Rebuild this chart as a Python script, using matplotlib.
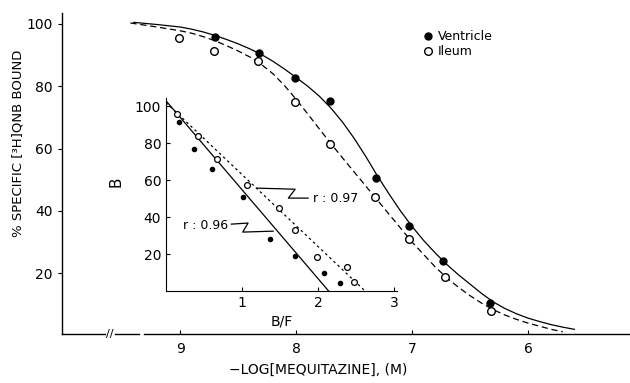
import matplotlib
matplotlib.use("Agg")
import matplotlib.pyplot as plt

plt.rcParams['font.family'] = ['DejaVu Sans']

# main plot: -log[mequitazine] vs % specific binding
vent_x = [8.70, 8.32, 8.01, 7.71, 7.31, 7.03, 6.73, 6.33]
vent_y = [95.8, 90.7, 82.7, 75.4, 50.4, 35.0, 23.8, 10.4]
ileum_x = [9.01, 8.71, 8.33, 8.01, 7.71, 7.32, 7.03, 6.72, 6.32]
ileum_y = [95.5, 91.4, 88.2, 75.0, 61.6, 44.3, 30.9, 18.7, 7.8]

# fitted curves
vent_fit_x = [9.4, 9.2, 9.0, 8.9, 8.8, 8.7, 8.6, 8.5, 8.4, 8.3, 8.2, 8.1, 8.0, 7.9,
              7.8, 7.7, 7.6, 7.5, 7.4, 7.3, 7.2, 7.1, 7.0, 6.9, 6.8, 6.7, 6.6, 6.5,
              6.4, 6.3, 6.2, 6.1, 6.0, 5.9, 5.8, 5.7, 5.6]
vent_fit_y = [100.5, 99.8, 99.0, 98.3, 97.4, 96.3, 95.0, 93.6, 92.0, 90.2, 88.0, 85.5,
              82.8, 80.0, 76.8, 73.0, 68.5, 63.3, 57.5, 51.3, 45.5, 40.0, 35.0, 30.5,
              26.5, 22.8, 19.5, 16.5, 13.5, 10.8, 8.7, 7.0, 5.6, 4.5, 3.5, 2.7, 2.0]
ileum_fit_x = [9.43, 9.2, 9.0, 8.9, 8.8, 8.7, 8.6, 8.5, 8.4, 8.3, 8.2, 8.1, 8.0, 7.9,
               7.8, 7.7, 7.6, 7.5, 7.4, 7.3, 7.2, 7.1, 7.0, 6.9, 6.8, 6.7, 6.6, 6.5,
               6.4, 6.3, 6.2, 6.1, 6.0, 5.9, 5.8, 5.7]
ileum_fit_y = [100.3, 99.0, 97.8, 97.0, 95.9, 94.6, 93.0, 91.3, 89.4, 87.0, 84.0, 80.2,
               75.8, 71.1, 66.3, 61.6, 57.0, 52.5, 48.0, 43.5, 39.0, 34.5, 30.0, 26.0,
               22.0, 18.5, 15.5, 12.8, 10.4, 8.3, 6.6, 5.2, 4.0, 3.0, 2.0, 1.2]

# inset: Scatchard plot B vs B/F
sv_x = [0.17, 0.37, 0.61, 1.01, 1.37, 1.70, 2.08, 2.29]
sv_y = [91.4, 76.8, 66.0, 50.8, 28.1, 18.9, 9.7, 4.3]
si_x = [0.14, 0.42, 0.67, 1.07, 1.49, 1.70, 1.99, 2.38, 2.47]
si_y = [95.7, 83.8, 71.4, 57.3, 44.9, 33.0, 18.4, 13.0, 4.9]
sv_line_x = [0.0, 2.14]
sv_line_y = [103.0, 0.0]
si_line_x = [0.0, 2.62]
si_line_y = [102.0, 0.0]

fig = plt.figure(figsize=(6.3, 3.83), dpi=100)
ax = fig.add_axes([62/630, 1-334/383, 568/630, 321/383])

ax.plot(vent_fit_x, vent_fit_y, color='black', lw=0.9)
ax.plot(ileum_fit_x, ileum_fit_y, color='black', lw=0.9, ls=(0, (5, 3)))
ax.plot(vent_x, vent_y, 'o', color='black', ms=5, label='Ventricle')
ax.plot(ileum_x, ileum_y, 'o', mfc='white', mec='black', mew=1, ms=5.5, label='Ileum')

ax.set_xlim(10.02, 5.12)
ax.set_ylim(0.5, 103.5)
ax.set_xticks([9, 8, 7, 6])
ax.set_yticks([20, 40, 60, 80, 100])
ax.tick_params(axis='x', direction='in', length=3, labelsize=10, pad=6)
ax.tick_params(axis='y', direction='out', length=3, labelsize=10)
for s in ['top', 'right', 'bottom']:
    ax.spines[s].set_visible(False)
ax.spines['left'].set_linewidth(1)

# broken x axis line
fx = lambda px: (px - 62) / 568
kw = dict(transform=ax.transAxes, color='black', lw=1, clip_on=False)
ax.plot([0, fx(105)], [0, 0], **kw)
ax.plot([fx(115), fx(139)], [0, 0], **kw)
ax.plot([fx(144), 1], [0, 0], **kw)
ax.text(fx(110), 0, '//', transform=ax.transAxes, ha='center', va='center',
        fontsize=8)

ax.set_ylabel('% SPECIFIC [\u00b3H]QNB BOUND', fontsize=9.5)
ax.yaxis.set_label_coords(-0.066, 0.595)
ax.set_xlabel('\u2212LOG[MEQUITAZINE], (M)', fontsize=10)
ax.xaxis.set_label_coords(0.451, -0.09)

fig.legend(loc='upper left', bbox_to_anchor=(418/630, 1-24/383), frameon=False,
           handlelength=0.6, handletextpad=0.5, borderpad=0, labelspacing=0.15,
           fontsize=9)

# inset
ai = fig.add_axes([166/630, 1-291/383, 231/630, 193/383])
ai.plot(sv_line_x, sv_line_y, color='black', lw=0.9)
ai.plot(si_line_x, si_line_y, color='black', lw=0.9, ls=(0, (2, 2.5)))
ai.plot(sv_x, sv_y, 'o', color='black', ms=3)
ai.plot(si_x, si_y, 'o', mfc='white', mec='black', mew=0.9, ms=4.2)
ai.set_xlim(0, 3.04)
ai.set_ylim(0, 104.5)
ai.set_xticks([1, 2, 3])
ai.set_yticks([20, 40, 60, 80, 100])
ai.tick_params(direction='in', length=3, labelsize=10)
ai.patch.set_alpha(0)
for s in ['top', 'right']:
    ai.spines[s].set_visible(False)
ai.set_xlabel('B/F', fontsize=10, labelpad=3)
ai.set_ylabel('B', fontsize=11)
ai.yaxis.set_label_coords(-0.185, 0.565)

# r value leaders
ai.plot([1.20, 1.70, 1.61, 1.87], [55.7, 55.1, 50.3, 50.3], color='black', lw=0.9, clip_on=False)
ai.text(1.93, 50.3, 'r : 0.97', fontsize=9, va='center', ha='left')
ai.plot([0.86, 1.08, 1.01, 1.41], [36.2, 36.8, 31.9, 32.4], color='black', lw=0.9)
ai.text(0.82, 35.5, 'r : 0.96', fontsize=9, va='center', ha='right')

fig.savefig('out.png', dpi=100)
